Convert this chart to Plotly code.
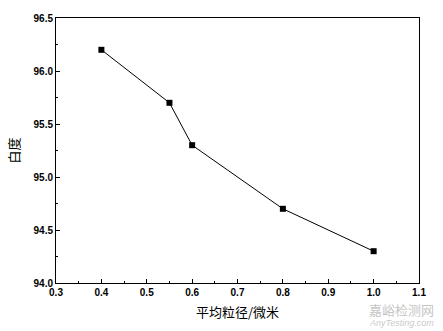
import plotly.graph_objects as go

x_vals = [0.4, 0.55, 0.6, 0.8, 1.0]
y_vals = [96.2, 95.7, 95.3, 94.7, 94.3]
x_title = "平均粒径/微米"
y_title = "白度"

fig = go.Figure()
fig.add_trace(go.Scatter(
    x=x_vals, y=y_vals, mode="lines+markers",
    line=dict(color="black", width=1),
    marker=dict(symbol="square", size=6, color="black"),
    showlegend=False,
))

tickfont = dict(family="Liberation Sans, Arial", size=10, color="black", weight="bold")
fig.update_xaxes(
    range=[0.3, 1.1], dtick=0.1, tick0=0.3, tickformat=".1f",
    showgrid=False, zeroline=False, showline=True, linecolor="black", linewidth=1,
    mirror=True, ticks="inside", ticklen=4, tickcolor="black",
    minor=dict(ticks="inside", ticklen=2, dtick=0.05, tickcolor="black"),
    tickfont=tickfont,
    title=dict(text=x_title, font=dict(family="Noto Sans CJK SC", size=13, color="black"), standoff=10),
)
fig.update_yaxes(
    range=[94.0, 96.5], dtick=0.5, tick0=94.0, tickformat=".1f",
    showgrid=False, zeroline=False, showline=True, linecolor="black", linewidth=1,
    mirror=True, ticks="inside", ticklen=4, tickcolor="black",
    minor=dict(ticks="inside", ticklen=2, dtick=0.25, tickcolor="black"),
    tickfont=tickfont,
    title=dict(text=y_title, font=dict(family="Noto Sans CJK SC", size=13, color="black"), standoff=10),
)

fig.add_annotation(text="嘉峪检测网", xref="paper", yref="paper", x=1.045, y=-0.062,
                   xanchor="right", yanchor="top", showarrow=False, borderpad=0,
                   font=dict(family="Noto Sans CJK SC", size=13, color="rgba(185,185,185,0.85)"))
fig.add_annotation(text="<i>AnyTesting.com</i>", xref="paper", yref="paper", x=1.045, y=-0.175,
                   xanchor="right", yanchor="bottom", showarrow=False, borderpad=0,
                   font=dict(family="Liberation Sans", size=9, color="rgba(190,190,190,0.85)"))

fig.update_layout(
    width=443, height=331,
    margin=dict(l=56, r=24, t=13, b=48),
    paper_bgcolor="white", plot_bgcolor="white",
    font=dict(family="Liberation Sans", color="black"),
)
fig.write_html("out.html")
